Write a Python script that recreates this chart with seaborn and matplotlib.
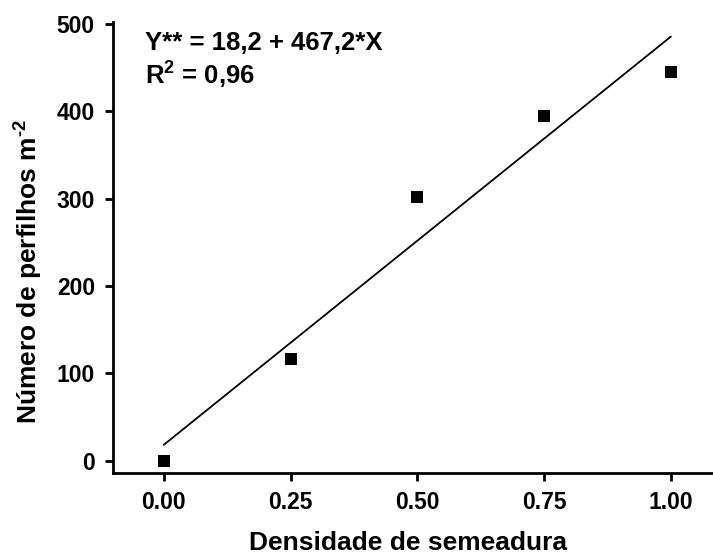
import numpy as np
import pandas as pd
import matplotlib
matplotlib.use("Agg")
import matplotlib.pyplot as plt
import seaborn as sns

# dados
densidade = [0.00, 0.25, 0.50, 0.75, 1.00]
perfilhos = [0, 117, 302, 395, 445]

# coeficientes da regressão (do texto da figura)
intercepto = 18.2
inclinacao = 467.2

x_ticks = [0.00, 0.25, 0.50, 0.75, 1.00]
y_ticks = [0, 100, 200, 300, 400, 500]

sns.set_style("ticks")
plt.rcParams['font.family'] = ['Liberation Sans', 'DejaVu Sans']
plt.rcParams['font.weight'] = 'bold'
plt.rcParams['text.color'] = 'black'
plt.rcParams['axes.labelcolor'] = 'black'
plt.rcParams['xtick.color'] = 'black'
plt.rcParams['ytick.color'] = 'black'
plt.rcParams['axes.edgecolor'] = 'black'
plt.rcParams['mathtext.fontset'] = 'custom'
plt.rcParams['mathtext.rm'] = 'Liberation Sans:bold'
plt.rcParams['mathtext.it'] = 'Liberation Sans:bold'
plt.rcParams['mathtext.bf'] = 'Liberation Sans:bold'

df = pd.DataFrame({'x': densidade, 'y': perfilhos})
linha = pd.DataFrame({'x': [0.0, 1.0]})
linha['y'] = intercepto + inclinacao * linha['x']

fig = plt.figure(figsize=(7.13, 5.54), dpi=100)
ax = fig.add_axes([0.1585, 0.1462, 0.8415, 0.814])

sns.lineplot(data=linha, x='x', y='y', color='black', linewidth=1.3, ax=ax)
sns.scatterplot(data=df, x='x', y='y', marker='s', s=70, color='black',
                edgecolor='black', linewidth=0, ax=ax, zorder=3)

ax.set_xlim(-0.1, 1.083)
ax.set_ylim(-14, 502)
ax.set_xticks(x_ticks)
ax.set_xticklabels([f"{v:.2f}" for v in x_ticks])
ax.set_yticks(y_ticks)

for s in ['top', 'right']:
    ax.spines[s].set_visible(False)
for s in ['left', 'bottom']:
    ax.spines[s].set_linewidth(2)
ax.tick_params(direction='out', length=6, width=2, labelsize=16.5, pad=7)
for lab in ax.get_xticklabels() + ax.get_yticklabels():
    lab.set_fontweight('bold')

ax.set_xlabel('Densidade de semeadura', fontsize=19, fontweight='bold')
ax.set_ylabel(r'Número de perfilhos m$^{\text{-2}}$', fontsize=19, fontweight='bold')
ax.xaxis.set_label_coords(0.492, -0.129)
ax.yaxis.set_label_coords(-0.113, 0.446)

ax.text(0.053, 0.953, 'Y** = 18,2 + 467,2*X', transform=ax.transAxes,
        fontsize=18.5, fontweight='bold', va='center', ha='left')
ax.text(0.053, 0.882, r'R$^2$ = 0,96', transform=ax.transAxes,
        fontsize=18.5, fontweight='bold', va='center', ha='left')

fig.savefig('out.png', dpi=100)
